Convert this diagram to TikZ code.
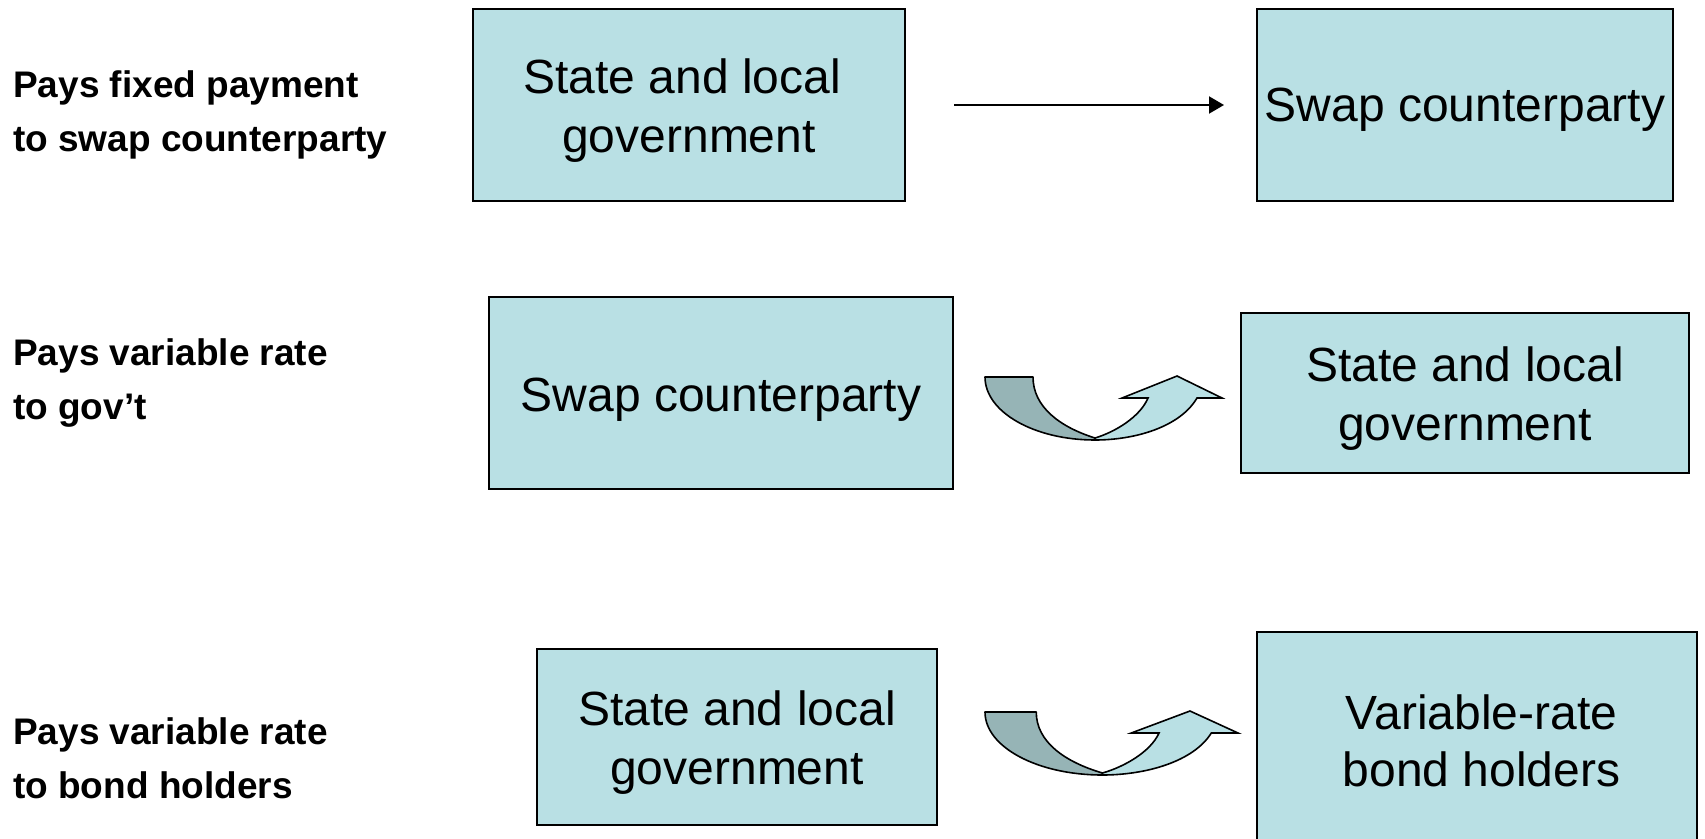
\documentclass[tikz,border=0pt]{standalone}
\usepackage{fontspec}
\setmainfont{Liberation Sans}
\usetikzlibrary{arrows.meta}
\definecolor{boxfill}{RGB}{185,224,228}
\definecolor{darkfill}{RGB}{150,180,182}
\tikzset{
  box/.style={draw=black, line width=2pt, fill=boxfill, inner sep=0pt, align=center,
              text height=47pt, font=\fontsize{48}{59}\selectfont},
  twoline/.style={text height=105pt},
  lab/.style={anchor=base west, inner sep=0pt, align=left,
              font=\bfseries\fontsize{37}{54}\selectfont},
  conn/.style={draw=black, line width=2pt, -{Triangle[length=15pt,width=17pt]}},
  darkpart/.style={fill=darkfill, draw=black, line width=1.6pt, line join=round},
  lightpart/.style={fill=boxfill, draw=black, line width=1.6pt, line join=miter},
  curvup/.pic={
    \path[darkpart] (0,0) -- (48,0) .. controls (48,30) and (75,50) .. (110,61)
       -- (110,63)
       .. controls (49,63) and (0,35) .. (0,0) -- cycle;
    \path[lightpart] (110,63) .. controls (150,63) and (195,50) .. (212,21)
       -- (237,21) -- (192,-1) -- (137,21) -- (163,21)
       .. controls (155,40) and (130,55) .. (110,61) -- cycle;
  }
}
\begin{document}
\begin{tikzpicture}[x=1pt,y=-1pt]
\useasboundingbox (0,0) rectangle (1705,838);
% left labels (base = baseline of the last line)
\node[lab] (l1) at (13,151) {Pays fixed payment\\to swap counterparty};
\node[lab] (l2) at (13,419) {Pays variable rate\\to gov’t};
\node[lab] (l3) at (13,798) {Pays variable rate\\to bond holders};
% row 1
\node[box, twoline, minimum width=432pt, minimum height=192pt] (b1) at (689,105) {State and local\kern0.278em\\government};
\node[box, text height=43pt, minimum width=416pt, minimum height=192pt] (b2) at (1465,105) {Swap counterparty};
\draw[conn, shorten <=48pt, shorten >=32pt] (b1) -- (b2);
% row 2
\node[box, minimum width=464pt, minimum height=192pt] (b3) at (721,393) {Swap counterparty};
\node[box, twoline, minimum width=448pt, minimum height=160pt] (b4) at (1465,393) {State and local\\government};
\pic at (985,377) {curvup};
% row 3
\node[box, twoline, minimum width=400pt, minimum height=176pt] (b5) at (737,737) {State and local\\government};
\node[box, text height=95pt, font=\fontsize{48}{56.5}\selectfont, minimum width=440pt, minimum height=214pt] (b6) at (1477,739) {\kern9pt Variable-rate\\\kern9pt bond holders};
\pic[xscale=1.0675] at (985,712) {curvup};
\end{tikzpicture}
\end{document}
